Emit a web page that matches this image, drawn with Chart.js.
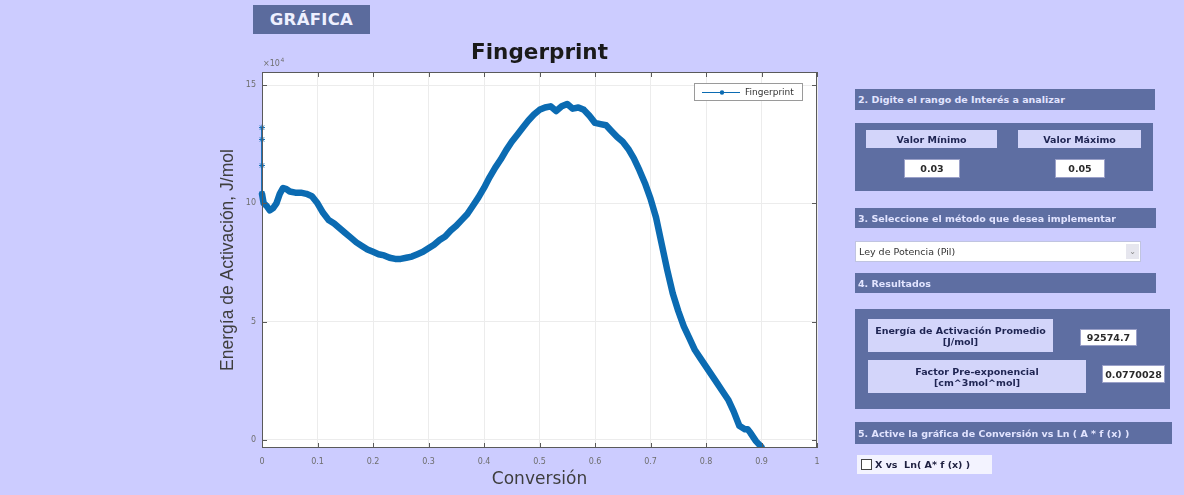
<!DOCTYPE html>
<html lang="es">
<head>
<meta charset="utf-8">
<title>Fingerprint</title>
<script src="https://cdn.jsdelivr.net/npm/chart.js@4.4.1/dist/chart.umd.min.js"></script>
<style>
  html, body { margin: 0; padding: 0; }
  body { width: 1184px; height: 495px; overflow: hidden; background: #ccccff; position: relative;
         font-family: "DejaVu Sans", "Liberation Sans", sans-serif; }
  #plot { position: absolute; left: 0; top: 0; }
  .blk { position: absolute; box-sizing: border-box; }
  .slate { background: #5e6ea2; }
  .hdr { color: #e2e4ff; font-size: 9.5px; font-weight: bold; padding-left: 3px; display: flex; align-items: center; white-space: nowrap; }
  .lbl { background: #d3d5fa; color: #1e2452; font-size: 9.5px; font-weight: bold; text-align: center;
         display: flex; flex-direction: column; justify-content: center; line-height: 11px; }
  .val { background: #ffffff; color: #2a2a2a; font-size: 9.5px; font-weight: bold; display: flex;
         align-items: center; justify-content: center; border: 1px solid #9aa0c8; }
  #tab { background: #5b6b9d; color: #eef0ff; font-size: 16.5px; font-weight: bold; display: flex;
         align-items: center; justify-content: center; letter-spacing: 0.3px; }
  #combo { background: #fff; color: #333; font-size: 9.5px; display: flex; align-items: center; padding-left: 3px; border: 1px solid #c0c4e0; }
  #combo .arr { position: absolute; right: 1px; top: 2px; width: 13px; height: 15px; background: #e6e6ee; color: #888;
                font-size: 8px; display: flex; align-items: center; justify-content: center; }
  #chk { background: #f3f3ff; color: #1e2040; font-size: 9.5px; font-weight: bold; display: flex; align-items: center; padding-left: 4px; }
  #chk .box { width: 9px; height: 9px; border: 1px solid #444; background: #fff; margin-right: 3px; }
</style>
</head>
<body>
<canvas id="plot" width="1184" height="495"></canvas>

<div id="tab" class="blk" style="left:253px;top:5px;width:117px;height:29px;">GRÁFICA</div>

<div class="blk slate hdr" style="left:855px;top:89px;width:300px;height:21px;">2. Digite el rango de Interés a analizar</div>
<div class="blk slate" style="left:855px;top:123px;width:298px;height:68px;"></div>
<div class="blk lbl" style="left:866px;top:130px;width:131px;height:18px;">Valor Mínimo</div>
<div class="blk lbl" style="left:1018px;top:130px;width:123px;height:18px;">Valor Máximo</div>
<div class="blk val" style="left:904px;top:159px;width:56px;height:19px;">0.03</div>
<div class="blk val" style="left:1055px;top:159px;width:50px;height:19px;">0.05</div>

<div class="blk slate hdr" style="left:855px;top:208px;width:301px;height:20px;">3. Seleccione el método que desea implementar</div>
<div id="combo" class="blk" style="left:855px;top:241px;width:286px;height:21px;">Ley de Potencia (Pil)<span class="arr">&#8964;</span></div>

<div class="blk slate hdr" style="left:855px;top:273px;width:301px;height:20px;">4. Resultados</div>
<div class="blk slate" style="left:855px;top:309px;width:315px;height:100px;"></div>
<div class="blk lbl" style="left:868px;top:319px;width:185px;height:33px;"><span>Energía de Activación Promedio</span><span>[J/mol]</span></div>
<div class="blk val" style="left:1080px;top:329px;width:57px;height:17px;">92574.7</div>
<div class="blk lbl" style="left:868px;top:360px;width:218px;height:33px;"><span>Factor Pre-exponencial</span><span>[cm^3mol^mol]</span></div>
<div class="blk val" style="left:1102px;top:365px;width:63px;height:18px;">0.0770028</div>

<div class="blk slate hdr" style="left:855px;top:422px;width:317px;height:22px;">5. Active la gráfica de Conversión vs Ln ( A * f (x) )</div>
<div id="chk" class="blk" style="left:857px;top:455px;width:135px;height:19px;"><span class="box"></span>X vs&nbsp; Ln( A* f (x) )</div>

<script>
// Conversion values (x) and activation energy in J/mol (y)
const conversion = [
  0, 0, 0, 0, 0.003, 0.008, 0.014, 0.02, 0.026, 0.032, 0.038, 0.044, 0.05,
  0.06, 0.07, 0.08, 0.09, 0.10, 0.11, 0.12, 0.13, 0.14, 0.15, 0.16, 0.17,
  0.18, 0.19, 0.20, 0.21, 0.22, 0.23, 0.24, 0.25, 0.26, 0.27, 0.28, 0.29,
  0.30, 0.31, 0.32, 0.33, 0.34, 0.35, 0.36, 0.37, 0.38, 0.39, 0.40, 0.41,
  0.42, 0.43, 0.44, 0.45, 0.46, 0.47, 0.48, 0.49, 0.50, 0.51, 0.52, 0.53,
  0.54, 0.55, 0.56, 0.57, 0.58, 0.59, 0.60, 0.61, 0.62, 0.63, 0.64, 0.65,
  0.66, 0.67, 0.68, 0.69, 0.70, 0.71, 0.72, 0.73, 0.74, 0.75, 0.76, 0.77,
  0.78, 0.79, 0.80, 0.81, 0.82, 0.83, 0.84, 0.85, 0.86, 0.87, 0.875, 0.88,
  0.89, 0.90
];
const energy = [
  132000, 127000, 116000, 104000, 100000, 99000, 97000, 98000, 100000, 104000, 106500, 106000, 105000,
  104500, 104500, 104000, 103000, 100000, 96000, 93000, 91500, 89500, 87500, 85500, 83500,
  82000, 80500, 79500, 78500, 78000, 77000, 76500, 76500, 77000, 77500, 78500, 79500,
  81000, 82500, 84500, 86000, 88500, 90500, 93000, 95500, 99000, 102500, 106500, 111000,
  115000, 118500, 122500, 126000, 129000, 132000, 135000, 137500, 139500, 140500, 141000, 139000,
  141000, 142000, 140000, 140500, 139500, 137000, 134000, 133500, 133000, 130500, 128000, 126000,
  123000, 119000, 114000, 108500, 102000, 94000, 83000, 72000, 62000, 54500, 48000, 43000,
  38000, 34500, 31000, 27500, 24000, 20500, 17000, 12000, 6000, 4500, 4500, 3000,
  -500, -3000
];
const xTicks = [0, 0.1, 0.2, 0.3, 0.4, 0.5, 0.6, 0.7, 0.8, 0.9, 1];
const yTicks = [0, 50000, 100000, 150000];
const seriesName = 'Fingerprint';

const lineBlue = '#0b6bb2';
const points = conversion.map((c, i) => ({ x: c, y: energy[i] }));

// Paints the white axes background, the boxed frame with inward ticks,
// the titles, the exponent note and the legend box.
const axesDecor = {
  id: 'axesDecor',
  beforeDraw(chart) {
    const { ctx, chartArea: a } = chart;
    ctx.save();
    ctx.fillStyle = '#ffffff';
    ctx.fillRect(a.left, a.top, a.right - a.left, a.bottom - a.top);
    ctx.restore();
  },
  afterDatasetsDraw(chart) {
    const { ctx, chartArea: a, scales } = chart;
    ctx.save();
    ctx.strokeStyle = '#5a5a5a';
    ctx.lineWidth = 1;
    ctx.strokeRect(a.left + 0.5, a.top + 0.5, a.right - a.left - 1, a.bottom - a.top - 1);
    const tl = 5;
    ctx.beginPath();
    xTicks.forEach(v => {
      const px = Math.round(scales.x.getPixelForValue(v)) + 0.5;
      ctx.moveTo(px, a.bottom); ctx.lineTo(px, a.bottom - tl);
      ctx.moveTo(px, a.top); ctx.lineTo(px, a.top + tl);
    });
    yTicks.forEach(v => {
      const py = Math.round(scales.y.getPixelForValue(v)) + 0.5;
      ctx.moveTo(a.left, py); ctx.lineTo(a.left + tl, py);
      ctx.moveTo(a.right, py); ctx.lineTo(a.right - tl, py);
    });
    ctx.stroke();

    // Title
    ctx.fillStyle = '#1a1a1a';
    ctx.font = 'bold 21.5px "DejaVu Sans"';
    ctx.textAlign = 'center';
    ctx.textBaseline = 'middle';
    ctx.fillText('Fingerprint', (a.left + a.right) / 2, 53);

    // Axis titles
    ctx.fillStyle = '#3e3e3e';
    ctx.font = '17px "DejaVu Sans"';
    ctx.fillText('Conversión', (a.left + a.right) / 2, 480);
    ctx.save();
    ctx.translate(228, 260);
    ctx.rotate(-Math.PI / 2);
    ctx.font = '17.5px "Liberation Sans"';
    ctx.fillText('Energía de Activación, J/mol', 0, 0);
    ctx.restore();

    // Exponent note above the y axis
    ctx.fillStyle = '#707070';
    ctx.textAlign = 'left';
    ctx.font = '8px "DejaVu Sans"';
    ctx.fillText('\u00d710', a.left + 1, 64);
    ctx.font = '6px "DejaVu Sans"';
    ctx.fillText('4', a.left + 1 + ctx.measureText('x').width + 14, 60);

    // Legend
    const lx = 694, ly = 83, lw = 109, lh = 18;
    ctx.fillStyle = '#ffffff';
    ctx.fillRect(lx, ly, lw, lh);
    ctx.strokeStyle = '#9a9a9a';
    ctx.strokeRect(lx + 0.5, ly + 0.5, lw - 1, lh - 1);
    ctx.strokeStyle = lineBlue;
    ctx.lineWidth = 1.2;
    ctx.beginPath();
    ctx.moveTo(lx + 8, ly + 9.5); ctx.lineTo(lx + 46, ly + 9.5);
    ctx.stroke();
    ctx.fillStyle = lineBlue;
    ctx.beginPath();
    ctx.arc(lx + 28, ly + 9.5, 2.2, 0, Math.PI * 2);
    ctx.fill();
    ctx.fillStyle = '#333333';
    ctx.font = '9px "DejaVu Sans"';
    ctx.textBaseline = 'middle';
    ctx.fillText(seriesName, lx + 51, ly + 9.5);
    ctx.restore();
  }
};

const onSpike = ctx => ctx.p0.parsed.x === 0 && ctx.p1.parsed.x === 0;

new Chart(document.getElementById('plot'), {
  type: 'line',
  data: {
    datasets: [{
      label: seriesName,
      data: points,
      borderColor: lineBlue,
      backgroundColor: lineBlue,
      borderWidth: 6.5,
      borderJoinStyle: 'round',
      borderCapStyle: 'round',
      tension: 0,
      clip: { left: 4, top: 0, right: 0, bottom: 0 },
      pointStyle: 'star',
      pointRadius: c => (c.raw && c.raw.x === 0 ? 3 : 0),
      pointBorderWidth: 1,
      pointBorderColor: lineBlue,
      segment: {
        borderWidth: c => (onSpike(c) ? 1.8 : 6.5)
      }
    }]
  },
  options: {
    responsive: false,
    animation: false,
    layout: { padding: { left: 222, top: 72, right: 367, bottom: 27 } },
    plugins: { legend: { display: false }, title: { display: false }, tooltip: { enabled: false } },
    scales: {
      x: {
        type: 'linear',
        min: 0, max: 1,
        afterBuildTicks: s => { s.ticks = xTicks.map(v => ({ value: v })); },
        afterFit: s => { s.height = 20; },
        grid: { color: '#ececec', drawTicks: false },
        border: { display: false },
        ticks: {
          padding: 9,
          color: '#6e6e6e',
          font: { family: 'DejaVu Sans', size: 8 },
          maxRotation: 0,
          callback: v => String(+v.toFixed(1))
        }
      },
      y: {
        type: 'linear',
        min: -3400, max: 155500,
        afterBuildTicks: s => { s.ticks = yTicks.map(v => ({ value: v })); },
        afterFit: s => { s.width = 40; },
        grid: { color: '#ececec', drawTicks: false },
        border: { display: false },
        ticks: {
          padding: 6,
          color: '#6e6e6e',
          font: { family: 'DejaVu Sans', size: 8 },
          callback: v => String(v / 10000)
        }
      }
    }
  },
  plugins: [axesDecor]
});
</script>
</body>
</html>
